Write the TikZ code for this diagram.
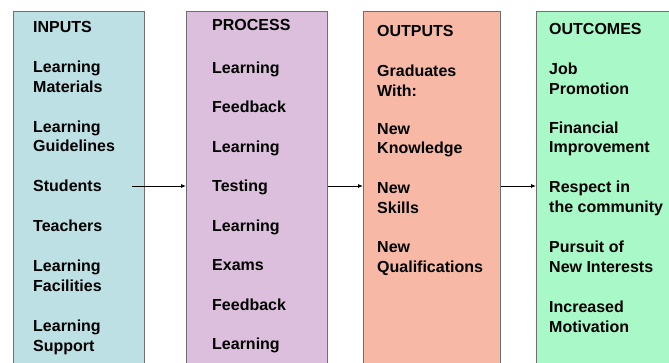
\documentclass[tikz,border=0pt]{standalone}
\usepackage{fontspec}
\setmainfont{Liberation Sans}
\usetikzlibrary{arrows.meta}
\definecolor{inputfill}{HTML}{BCE0E3}
\definecolor{processfill}{HTML}{DCBFDC}
\definecolor{outputfill}{HTML}{F7B9A6}
\definecolor{outcomefill}{HTML}{A8F8C8}
\definecolor{edgegray}{HTML}{707070}
\tikzset{
  stage/.style={draw=edgegray, line width=1pt, anchor=north west, inner sep=0pt, minimum height=380pt},
  items/.style={anchor=north west, inner sep=0pt, align=left, font=\fontsize{16}{19.9}\selectfont\bfseries},
  flow/.style={-{Latex[length=5pt,width=4pt]}, line width=0.8pt}
}
\begin{document}
\begin{tikzpicture}[x=1pt, y=-1pt]
    \clip (0,0) rectangle (669,363);
    \node[stage, fill=inputfill, minimum width=131pt] (inputs) at (13,11) {};
    \node[stage, fill=processfill, minimum width=141pt] (process) at (186,11) {};
    \node[stage, fill=outputfill, minimum width=137pt] (outputs) at (363,11) {};
    \node[stage, fill=outcomefill, minimum width=140pt] (outcomes) at (536,11) {};
    \node[items] (inputlist) at (33,21) {INPUTS\\[20pt]
        Learning\\Materials\\[20pt]
        Learning\\Guidelines\\[20pt]
        Students\\[20pt]
        Teachers\\[20pt]
        Learning\\Facilities\\[20pt]
        Learning\\Support};
    \node[items] (processlist) at (212,19) {PROCESS\\[23pt]
        Learning\\[19.6pt]
        Feedback\\[19.6pt]
        Learning\\[19.6pt]
        Testing\\[19.6pt]
        Learning\\[19.6pt]
        Exams\\[19.6pt]
        Feedback\\[19.6pt]
        Learning};
    \node[items] (outputlist) at (377,25) {OUTPUTS\\[20pt]
        Graduates\\With:\\[18pt]
        New\\Knowledge\\[20pt]
        New\\Skills\\[19pt]
        New\\Qualifications};
    \node[items] (outcomelist) at (549,23) {OUTCOMES\\[20pt]
        Job\\Promotion\\[19pt]
        Financial\\Improvement\\[20pt]
        Respect in\\the community\\[20pt]
        Pursuit of\\New Interests\\[20pt]
        Increased\\Motivation};
    \coordinate (studentout) at (132,186);
    \draw[flow] (studentout) -- (studentout -| process.west);
    \draw[flow] (process.east |- studentout) -- (outputs.west |- studentout);
    \draw[flow] (outputs.east |- studentout) -- (outcomes.west |- studentout);
\end{tikzpicture}
\end{document}
